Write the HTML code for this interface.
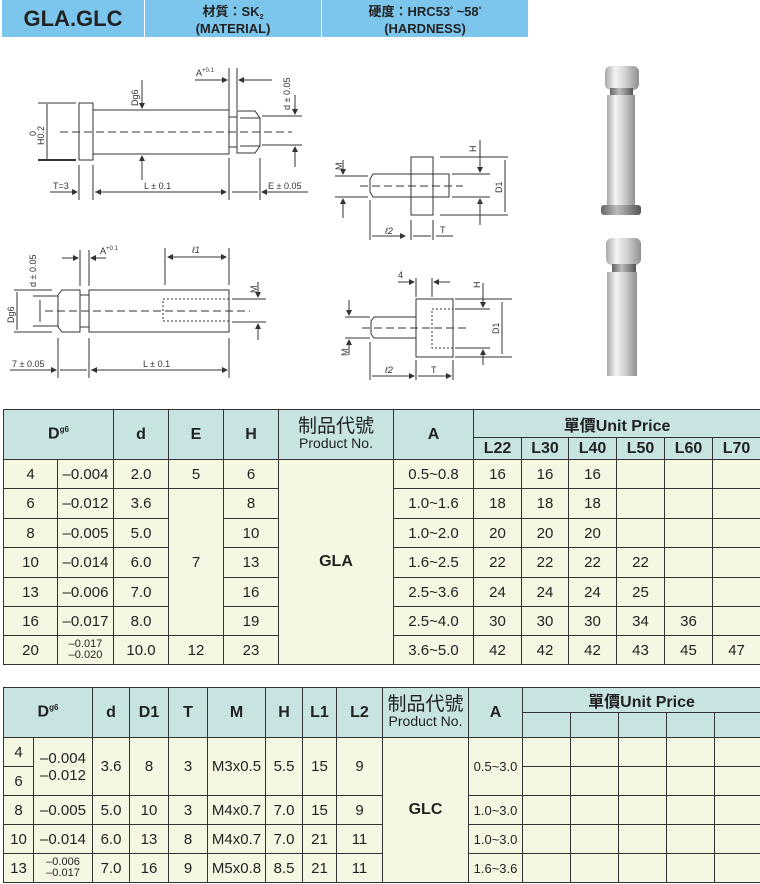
<!DOCTYPE html>
<html><head><meta charset="utf-8"><style>
body{margin:0;width:760px;height:884px;background:#fff;position:relative;overflow:hidden;font-family:"Liberation Sans Narrow","Liberation Sans","Noto Sans CJK TC",sans-serif;}
.ban{position:absolute;top:0;height:37px;background:#7cc6ee;color:#222;font-weight:bold;text-align:center;font-family:"Liberation Sans","Noto Sans CJK TC",sans-serif;}
table{position:absolute;border-collapse:collapse;table-layout:fixed;left:3px;}
td{border:1px solid #333;text-align:center;padding:0;font-size:15px;color:#222;background:#f5f7e2;white-space:nowrap;overflow:hidden;}
td.h{background:#c7e4e2;font-weight:bold;font-size:16px;}
td.pn{font-weight:normal;font-size:14px;line-height:16px}
td.pn b{font-size:19px;font-weight:normal;}
sup{font-size:8px}
td.sm{font-size:11px;line-height:11px}
.s{font-size:7px;position:relative;top:3px}
</style></head><body>
<div class="ban" style="left:2px;width:142px;font-size:22px;line-height:37px">GLA.GLC</div>
<div class="ban" style="left:145px;width:176px;font-size:13px;line-height:14px;padding-top:5px;height:32px">材質：SK<span class="s">2</span><br>(MATERIAL)</div>
<div class="ban" style="left:322px;width:206px;font-size:13px;line-height:14px;padding-top:5px;height:32px">硬度：HRC53<span class="s" style="top:-4px">°</span> ~58<span class="s" style="top:-4px">°</span><br>(HARDNESS)</div>

<svg width="760" height="400" style="position:absolute;left:0;top:0" font-family="Liberation Sans" font-size="9" fill="none" stroke="#333" stroke-width="1">
<defs><marker id="a" markerWidth="6" markerHeight="6" refX="5" refY="3" orient="auto"><path d="M0,0L6,3L0,6z" fill="#333" stroke="none"/></marker>
<linearGradient id="g" x1="0" x2="1"><stop offset="0" stop-color="#a8a8a8"/><stop offset=".3" stop-color="#f4f4f4"/><stop offset=".6" stop-color="#d0d0d0"/><stop offset="1" stop-color="#909090"/></linearGradient>
<linearGradient id="g2" x1="0" x2="1"><stop offset="0" stop-color="#666"/><stop offset=".4" stop-color="#bbb"/><stop offset="1" stop-color="#555"/></linearGradient></defs>
<!-- drawing 1 -->
<rect x="79" y="103" width="14" height="57"/><rect x="93" y="110" width="136" height="44"/><rect x="229" y="117" width="8" height="30"/>
<path d="M237,111H255L260,118V146L255,153H237Z"/><line x1="240" y1="118" x2="260" y2="118"/><line x1="240" y1="146" x2="260" y2="146"/>
<line x1="60" y1="132" x2="292" y2="132" stroke-dasharray="8,4"/>
<line x1="38" y1="103" x2="76" y2="103"/><line x1="38" y1="160" x2="76" y2="160" stroke-width="2"/><line x1="47" y1="104" x2="47" y2="159"/>
<line x1="142" y1="80" x2="142" y2="108" marker-end="url(#a)"/><line x1="142" y1="180" x2="142" y2="156" marker-end="url(#a)"/>
<line x1="79" y1="165" x2="79" y2="200"/><line x1="93" y1="165" x2="93" y2="200"/><line x1="229" y1="158" x2="229" y2="200"/><line x1="260" y1="158" x2="260" y2="200"/>
<line x1="229" y1="68" x2="229" y2="110"/><line x1="237" y1="68" x2="237" y2="110"/>
<line x1="195" y1="80" x2="227" y2="80" marker-end="url(#a)"/><line x1="272" y1="80" x2="239" y2="80" marker-end="url(#a)"/>
<line x1="262" y1="116" x2="302" y2="116"/><line x1="262" y1="145" x2="302" y2="145"/>
<line x1="295" y1="95" x2="295" y2="114" marker-end="url(#a)"/><line x1="295" y1="167" x2="295" y2="147" marker-end="url(#a)"/>
<line x1="50" y1="192" x2="77" y2="192" marker-end="url(#a)"/><line x1="95" y1="192" x2="226" y2="192" marker-end="url(#a)"/><line x1="226" y1="192" x2="96" y2="192" marker-end="url(#a)"/>
<line x1="232" y1="192" x2="258" y2="192"/><line x1="308" y1="192" x2="262" y2="192" marker-end="url(#a)"/>
<g fill="#333" stroke="none"><text x="53" y="189">T=3</text><text x="144" y="189">L ± 0.1</text><text x="268" y="189">E ± 0.05</text><text x="196" y="76">A<tspan font-size="6" dy="-4">+0.1</tspan></text>
<text transform="translate(138,106) rotate(-90)">Dg6</text><text transform="translate(290,110) rotate(-90)">d ± 0.05</text><text transform="translate(44,145) rotate(-90)">H0.2</text><text transform="translate(36,136) rotate(-90)">0</text></g>
<!-- drawing 2 -->
<path d="M62,290H80V332H62L58,327V295Z"/><rect x="80" y="295" width="9" height="32"/><rect x="89" y="290" width="140" height="42"/>
<rect x="163" y="299" width="66" height="22" stroke-dasharray="2,2"/><line x1="45" y1="311" x2="250" y2="311" stroke-dasharray="8,4"/>
<line x1="14" y1="290" x2="52" y2="290"/><line x1="14" y1="332" x2="52" y2="332"/><line x1="17" y1="292" x2="17" y2="330"/>
<line x1="40" y1="300" x2="40" y2="322"/><line x1="33" y1="296" x2="58" y2="296"/><line x1="33" y1="326" x2="58" y2="326"/>
<line x1="80" y1="250" x2="80" y2="286"/><line x1="89" y1="250" x2="89" y2="286"/><line x1="62" y1="258" x2="78" y2="258" marker-end="url(#a)"/><line x1="106" y1="258" x2="91" y2="258" marker-end="url(#a)"/>
<line x1="165" y1="248" x2="165" y2="285"/><line x1="229" y1="248" x2="229" y2="285"/><line x1="172" y1="257" x2="226" y2="257" marker-end="url(#a)"/><line x1="222" y1="257" x2="168" y2="257" marker-end="url(#a)"/>
<line x1="232" y1="299" x2="266" y2="299"/><line x1="232" y1="322" x2="266" y2="322"/><line x1="258" y1="282" x2="258" y2="297" marker-end="url(#a)"/><line x1="258" y1="340" x2="258" y2="324" marker-end="url(#a)"/>
<line x1="58" y1="338" x2="58" y2="378"/><line x1="89" y1="338" x2="89" y2="378"/><line x1="229" y1="338" x2="229" y2="378"/>
<line x1="10" y1="370" x2="56" y2="370" marker-end="url(#a)"/><line x1="60" y1="370" x2="87" y2="370"/><line x1="91" y1="370" x2="227" y2="370" marker-end="url(#a)"/><line x1="227" y1="370" x2="92" y2="370" marker-end="url(#a)"/>
<g fill="#333" stroke="none"><text x="12" y="367">7 ± 0.05</text><text x="143" y="367">L ± 0.1</text><text x="100" y="254">A<tspan font-size="6" dy="-4">+0.1</tspan></text><text x="192" y="253" font-style="italic">ℓ1</text>
<text transform="translate(36,287) rotate(-90)">d ± 0.05</text><text transform="translate(14,323) rotate(-90)">Dg6</text><text transform="translate(257,293) rotate(-90)">M</text></g>
<!-- drawing 3 -->
<rect x="411" y="157" width="22" height="58"/><path d="M373,174H449V197H373L370,192V179Z"/><line x1="360" y1="186" x2="463" y2="186" stroke-dasharray="8,4"/>
<line x1="335" y1="176" x2="368" y2="176"/><line x1="335" y1="197" x2="368" y2="197"/><line x1="343" y1="160" x2="343" y2="174" marker-end="url(#a)"/><line x1="343" y1="218" x2="343" y2="199" marker-end="url(#a)"/>
<line x1="440" y1="157" x2="508" y2="157"/><line x1="440" y1="215" x2="508" y2="215"/><line x1="452" y1="174" x2="490" y2="174"/><line x1="452" y1="197" x2="490" y2="197"/>
<line x1="505" y1="160" x2="505" y2="212"/><line x1="480" y1="140" x2="480" y2="172" marker-end="url(#a)"/><line x1="480" y1="225" x2="480" y2="199" marker-end="url(#a)"/>
<line x1="370" y1="200" x2="370" y2="240"/><line x1="411" y1="220" x2="411" y2="240"/><line x1="433" y1="220" x2="433" y2="240"/>
<line x1="372" y1="236" x2="405" y2="236" marker-end="url(#a)"/><line x1="413" y1="236" x2="431" y2="236"/><line x1="436" y1="236" x2="453" y2="236"/>
<g fill="#333" stroke="none"><text x="385" y="234" font-style="italic">ℓ2</text><text x="440" y="233">T</text><text transform="translate(342,170) rotate(-90)">M</text><text transform="translate(476,152) rotate(-90)">H</text><text transform="translate(502,193) rotate(-90)">D1</text></g>
<!-- drawing 4 -->
<rect x="416" y="299" width="37" height="58"/><rect x="432" y="309" width="21" height="39" stroke-dasharray="2,2"/><path d="M374,317H416V338H374L371,334V321Z"/>
<line x1="362" y1="328" x2="466" y2="328" stroke-dasharray="8,4"/>
<line x1="416" y1="278" x2="416" y2="297"/><line x1="432" y1="278" x2="432" y2="297"/><line x1="398" y1="282" x2="414" y2="282" marker-end="url(#a)"/><line x1="450" y1="282" x2="434" y2="282" marker-end="url(#a)"/>
<line x1="345" y1="317" x2="370" y2="317"/><line x1="345" y1="338" x2="370" y2="338"/><line x1="349" y1="300" x2="349" y2="315" marker-end="url(#a)"/><line x1="349" y1="355" x2="349" y2="340" marker-end="url(#a)"/>
<line x1="455" y1="299" x2="512" y2="299"/><line x1="455" y1="357" x2="512" y2="357"/><line x1="455" y1="309" x2="490" y2="309"/><line x1="455" y1="348" x2="490" y2="348"/>
<line x1="502" y1="302" x2="502" y2="354"/><line x1="483" y1="283" x2="483" y2="307" marker-end="url(#a)"/><line x1="483" y1="365" x2="483" y2="350" marker-end="url(#a)"/>
<line x1="370" y1="342" x2="370" y2="380"/><line x1="416" y1="360" x2="416" y2="380"/><line x1="453" y1="360" x2="453" y2="380"/>
<line x1="372" y1="376" x2="414" y2="376" marker-end="url(#a)"/><line x1="418" y1="376" x2="451" y2="376" marker-end="url(#a)"/>
<g fill="#333" stroke="none"><text x="398" y="278">4</text><text x="385" y="373" font-style="italic">ℓ2</text><text x="431" y="373">T</text><text transform="translate(348,356) rotate(-90)">M</text><text transform="translate(480,288) rotate(-90)">H</text><text transform="translate(499,334) rotate(-90)">D1</text></g>
<!-- photos -->
<g stroke="none"><rect x="605" y="66" width="34" height="24" rx="6" fill="url(#g)"/><rect x="610" y="88" width="23" height="8" fill="url(#g2)"/><rect x="607" y="95" width="28" height="112" fill="url(#g)"/><rect x="601" y="205" width="40" height="10" rx="3" fill="url(#g2)"/>
<rect x="606" y="238" width="35" height="27" rx="6" fill="url(#g)"/><rect x="612" y="264" width="24" height="9" fill="url(#g2)"/><rect x="607" y="272" width="30" height="104" fill="url(#g)"/></g>
</svg>

<table style="top:409px;width:757px">
<colgroup><col style="width:54px"><col style="width:56px"><col style="width:55px"><col style="width:55px"><col style="width:55px"><col style="width:115px"><col style="width:80px"><col style="width:48px"><col style="width:47px"><col style="width:48px"><col style="width:48px"><col style="width:48px"><col style="width:48px"></colgroup>
<tr style="height:28px"><td class="h" colspan="2" rowspan="2">D<sup>g6</sup></td><td class="h" rowspan="2">d</td><td class="h" rowspan="2">E</td><td class="h" rowspan="2">H</td><td class="h pn" rowspan="2"><b>制品代號</b><br>Product No.</td><td class="h" rowspan="2">A</td><td class="h" colspan="6">單價Unit Price</td></tr>
<tr style="height:22px"><td class="h">L22</td><td class="h">L30</td><td class="h">L40</td><td class="h">L50</td><td class="h">L60</td><td class="h">L70</td></tr>
<tr style="height:29px"><td>4</td><td>–0.004</td><td>2.0</td><td>5</td><td>6</td><td rowspan="7" style="font-weight:bold;font-size:16px">GLA</td><td>0.5~0.8</td><td>16</td><td>16</td><td>16</td><td></td><td></td><td></td></tr>
<tr style="height:30px"><td>6</td><td>–0.012</td><td>3.6</td><td rowspan="5">7</td><td>8</td><td>1.0~1.6</td><td>18</td><td>18</td><td>18</td><td></td><td></td><td></td></tr>
<tr style="height:29px"><td>8</td><td>–0.005</td><td>5.0</td><td>10</td><td>1.0~2.0</td><td>20</td><td>20</td><td>20</td><td></td><td></td><td></td></tr>
<tr style="height:30px"><td>10</td><td>–0.014</td><td>6.0</td><td>13</td><td>1.6~2.5</td><td>22</td><td>22</td><td>22</td><td>22</td><td></td><td></td></tr>
<tr style="height:29px"><td>13</td><td>–0.006</td><td>7.0</td><td>16</td><td>2.5~3.6</td><td>24</td><td>24</td><td>24</td><td>25</td><td></td><td></td></tr>
<tr style="height:29px"><td>16</td><td>–0.017</td><td>8.0</td><td>19</td><td>2.5~4.0</td><td>30</td><td>30</td><td>30</td><td>34</td><td>36</td><td></td></tr>
<tr style="height:29px"><td>20</td><td class="sm">–0.017<br>–0.020</td><td>10.0</td><td>12</td><td>23</td><td>3.6~5.0</td><td>42</td><td>42</td><td>42</td><td>43</td><td>45</td><td>47</td></tr>
</table>

<table style="top:687px;width:757px">
<colgroup><col style="width:30px"><col style="width:59px"><col style="width:37px"><col style="width:39px"><col style="width:39px"><col style="width:58px"><col style="width:37px"><col style="width:34px"><col style="width:46px"><col style="width:86px"><col style="width:54px"><col style="width:48px"><col style="width:48px"><col style="width:48px"><col style="width:48px"><col style="width:46px"></colgroup>
<tr style="height:24px"><td class="h" colspan="2" rowspan="2">D<sup>g6</sup></td><td class="h" rowspan="2">d</td><td class="h" rowspan="2">D1</td><td class="h" rowspan="2">T</td><td class="h" rowspan="2">M</td><td class="h" rowspan="2">H</td><td class="h" rowspan="2">L1</td><td class="h" rowspan="2">L2</td><td class="h pn" rowspan="2"><b>制品代號</b><br>Product No.</td><td class="h" rowspan="2">A</td><td class="h" colspan="5">單價Unit Price</td></tr>
<tr style="height:25px"><td class="h"></td><td class="h"></td><td class="h"></td><td class="h"></td><td class="h"></td></tr>
<tr style="height:29px"><td>4</td><td rowspan="2">–0.004<br>–0.012</td><td rowspan="2">3.6</td><td rowspan="2">8</td><td rowspan="2">3</td><td rowspan="2">M3x0.5</td><td rowspan="2">5.5</td><td rowspan="2">15</td><td rowspan="2">9</td><td rowspan="5" style="font-weight:bold;font-size:16px">GLC</td><td rowspan="2" style="font-size:13px">0.5~3.0</td><td></td><td></td><td></td><td></td><td></td></tr>
<tr style="height:29px"><td>6</td><td></td><td></td><td></td><td></td><td></td></tr>
<tr style="height:29px"><td>8</td><td>–0.005</td><td>5.0</td><td>10</td><td>3</td><td>M4x0.7</td><td>7.0</td><td>15</td><td>9</td><td style="font-size:13px">1.0~3.0</td><td></td><td></td><td></td><td></td><td></td></tr>
<tr style="height:29px"><td>10</td><td>–0.014</td><td>6.0</td><td>13</td><td>8</td><td>M4x0.7</td><td>7.0</td><td>21</td><td>11</td><td style="font-size:13px">1.0~3.0</td><td></td><td></td><td></td><td></td><td></td></tr>
<tr style="height:29px"><td>13</td><td class="sm">–0.006<br>–0.017</td><td>7.0</td><td>16</td><td>9</td><td>M5x0.8</td><td>8.5</td><td>21</td><td>11</td><td style="font-size:13px">1.6~3.6</td><td></td><td></td><td></td><td></td><td></td></tr>
</table>
</body></html>
